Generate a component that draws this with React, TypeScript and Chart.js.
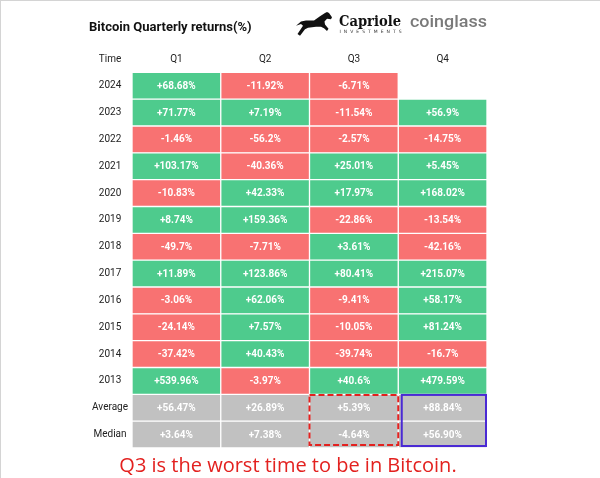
import React, { useEffect, useRef } from "react";
import { Chart, registerables } from "chart.js";

Chart.register(...registerables);

// ---- data ----
const years = ["2024", "2023", "2022", "2021", "2020", "2019", "2018", "2017", "2016", "2015", "2014", "2013"];
const summaryLabels = ["Average", "Median"];
const quarters = ["Q1", "Q2", "Q3", "Q4"];
const q1Returns: (number | null)[] = [68.68, 71.77, -1.46, 103.17, -10.83, 8.74, -49.7, 11.89, -3.06, -24.14, -37.42, 539.96, 56.47, 3.64];
const q2Returns: (number | null)[] = [-11.92, 7.19, -56.2, -40.36, 42.33, 159.36, -7.71, 123.86, 62.06, 7.57, 40.43, -3.97, 26.89, 7.38];
const q3Returns: (number | null)[] = [-6.71, -11.54, -2.57, 25.01, 17.97, -22.86, 3.61, 80.41, -9.41, -10.05, -39.74, 40.6, 5.39, -4.64];
const q4Returns: (number | null)[] = [null, 56.9, -14.75, 5.45, 168.02, -13.54, -42.16, 215.07, 58.17, 81.24, -16.7, 479.59, 88.84, 56.9];
const quarterReturns = [q1Returns, q2Returns, q3Returns, q4Returns];
const rowLabels = [...years, ...summaryLabels];

const titleText = "Bitcoin Quarterly returns(%)";
const captionText = "Q3 is the worst time to be in Bitcoin.";
const timeLabel = "Time";

const GREEN = "#4ecb8d";
const RED = "#f87272";
const GRAY = "#c1c1c1";

function formatCell(v: number, row: number): string {
  const isSummary = row >= years.length;
  const s = isSummary ? Math.abs(v).toFixed(2) : String(Math.abs(v));
  return (v >= 0 ? "+" : "-") + s + "%";
}

const decorPlugin = {
  id: "decor",
  beforeDraw(chart: any) {
    const ctx = chart.ctx;
    ctx.save();
    ctx.fillStyle = "#ffffff";
    ctx.fillRect(0, 0, chart.width, chart.height);
    ctx.fillStyle = "#d4d4d4";
    ctx.fillRect(0, 0, chart.width, 1);
    ctx.fillRect(0, 0, 1, chart.height);
    ctx.restore();
  },
  afterDatasetsDraw(chart: any) {
    const ctx = chart.ctx;
    const xs = chart.scales.x;
    const ys = chart.scales.y;
    ctx.save();
    // cell labels
    ctx.font = "bold 10px Roboto";
    ctx.fillStyle = "#ffffff";
    ctx.textAlign = "center";
    ctx.textBaseline = "middle";
    chart.data.datasets.forEach((ds: any, di: number) => {
      const meta = chart.getDatasetMeta(di);
      meta.data.forEach((el: any, i: number) => {
        const v = ds.returns[i];
        if (v == null) return;
        const c = el.getCenterPoint();
        ctx.fillText(formatCell(v, i), c.x, c.y + 0.5);
      });
    });

    // "Time" header in the y label column, on the quarter header line
    ctx.font = "10px Roboto";
    ctx.fillStyle = "#222";
    let labelX = (ys.left + ys.right) / 2;
    try {
      const items = ys.getLabelItems();
      if (items && items.length) labelX = items[0].options.translation[0];
    } catch (e) {}
    const headerY = xs.bottom - 7 - 6;
    ctx.fillText(timeLabel, labelX, headerY);

    // highlight boxes around Q3 / Q4 summary rows
    const rowH = (ys.bottom - ys.top) / rowLabels.length;
    const sumTop = ys.getPixelForValue(years.length) - rowH / 2;
    const sumBottom = ys.bottom;
    ctx.lineWidth = 2;
    ctx.setLineDash([6, 3]);
    ctx.strokeStyle = "#e3211f";
    ctx.strokeRect(xs.getPixelForValue(2), sumTop + 0.6, xs.getPixelForValue(3) - xs.getPixelForValue(2), sumBottom - sumTop - 3.6);
    ctx.setLineDash([]);
    ctx.strokeStyle = "#4a2ad4";
    ctx.strokeRect(xs.getPixelForValue(3) + 3.5, sumTop + 0.6, xs.getPixelForValue(4) - xs.getPixelForValue(3) - 4.5, sumBottom - sumTop - 2.6);
    ctx.restore();
  },
  afterDraw(chart: any) {
    const ctx = chart.ctx;
    ctx.save();
    // horse logo
    const hx = 296, hy = 12, sx = 1.0, sy = 1.05;
    const pts = [
      [36, 5], [33, 1], [31, 0], [29, 1], [24, 4], [18, 8], [10, 8], [5, 9], [0, 13], [5, 11.5],
      [7, 13], [5, 16], [1.5, 21], [4, 22.5], [9, 16.5], [12, 15], [20, 14], [25, 14], [28, 15.5],
      [31, 18], [32.5, 16], [29, 12], [28.5, 9], [31, 6.5], [35, 7],
    ];
    ctx.beginPath();
    pts.forEach((p, i) => {
      const X = hx + p[0] * sx, Y = hy + p[1] * sy;
      if (i === 0) ctx.moveTo(X, Y);
      else ctx.lineTo(X, Y);
    });
    ctx.closePath();
    ctx.fillStyle = "#111";
    ctx.fill();

    // Capriole
    ctx.textAlign = "left";
    ctx.textBaseline = "alphabetic";
    ctx.font = "bold 15px 'DejaVu Serif'";
    const capW = ctx.measureText("Capriole").width;
    ctx.save();
    ctx.translate(339, 25.5);
    ctx.scale(62 / capW, 1);
    ctx.fillStyle = "#111";
    ctx.fillText("Capriole", 0, 0);
    ctx.restore();
    ctx.font = "4.5px 'DejaVu Sans'";
    const inv = "INVESTMENTS";
    const invW = ctx.measureText(inv).width;
    const gap = (62 - invW) / (inv.length - 1);
    let cx = 339.5;
    ctx.fillStyle = "#333";
    for (const ch of inv) {
      ctx.fillText(ch, cx, 33);
      cx += ctx.measureText(ch).width + gap;
    }

    // coinglass
    ctx.font = "500 17px Roboto";
    const cgW = ctx.measureText("coinglass").width;
    ctx.save();
    ctx.translate(410, 27);
    ctx.scale(77 / cgW, 1);
    ctx.fillStyle = "#7a7a7a";
    ctx.fillText("coinglass", 0, 0);
    ctx.restore();
    ctx.restore();
  },
};

export default function App() {
  const ref = useRef<HTMLCanvasElement>(null);
  useEffect(() => {
    document.body.style.margin = "0";
    const canvas = ref.current!;
    const chart = new Chart(canvas, {
      type: "bar",
      data: {
        labels: rowLabels,
        datasets: quarterReturns.map((vals, qi) => ({
          label: quarters[qi],
          returns: vals,
          data: vals.map((v) => (v == null ? null : [qi, qi + 1])),
          backgroundColor: (c: any) => {
            const i = c.dataIndex;
            if (i >= years.length) return GRAY;
            const v = vals[i];
            return v != null && v >= 0 ? GREEN : RED;
          },
          borderColor: "#ffffff",
          borderWidth: 1,
          borderSkipped: false,
          grouped: false,
          barPercentage: 1,
          categoryPercentage: 1,
        })) as any,
      },
      options: {
        indexAxis: "y",
        responsive: false,
        animation: false,
        layout: { padding: { left: 89, right: 113, top: 0, bottom: 0 } },
        scales: {
          x: {
            type: "linear",
            position: "top",
            min: 0,
            max: 4,
            grid: { display: false, drawTicks: false },
            border: { display: false },
            afterBuildTicks: (axis: any) => {
              axis.ticks = quarters.map((_, i) => ({ value: i + 0.5 }));
            },
            afterFit: (s: any) => {
              s.height = 29.7;
            },
            ticks: {
              autoSkip: false,
              maxRotation: 0,
              padding: 7,
              color: "#222",
              font: { family: "Roboto", size: 10 },
              callback: (_v: any, i: number) => quarters[i],
            },
          },
          y: {
            type: "category",
            grid: { display: false, drawTicks: false },
            border: { display: false },
            afterFit: (s: any) => {
              s.width = 43;
            },
            ticks: {
              crossAlign: "center",
              padding: 4,
              autoSkip: false,
              color: "#222",
              font: { family: "Roboto", size: 10 },
            },
          },
        },
        plugins: {
          legend: { display: false },
          tooltip: { enabled: false },
          title: {
            display: true,
            text: titleText,
            align: "start",
            color: "#111",
            font: { family: "Roboto", size: 13, weight: "bold" },
            padding: { top: 20, bottom: 7 },
          },
          subtitle: {
            display: true,
            text: captionText,
            position: "bottom",
            align: "center",
            color: "#e3211f",
            font: { family: "Open Sans", size: 20, weight: "normal" },
            padding: { top: 6, bottom: 0 },
          },
        },
      } as any,
      plugins: [decorPlugin],
    });
    return () => chart.destroy();
  }, []);
  return <canvas ref={ref} width={600} height={478} style={{ display: "block" }} />;
}
